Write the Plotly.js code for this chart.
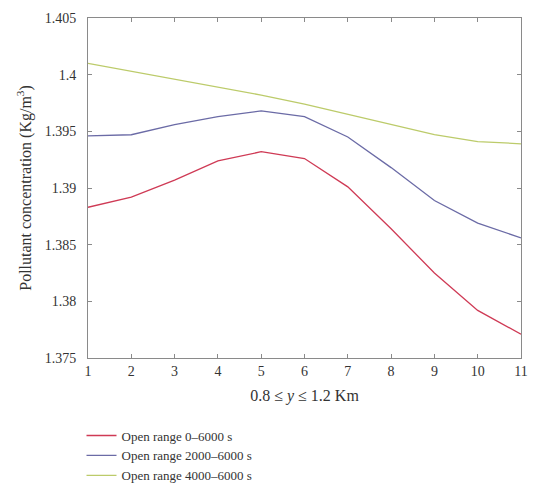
<!DOCTYPE html>
<html>
<head>
<meta charset="utf-8">
<script src="https://cdn.plot.ly/plotly-3.0.1.min.js"></script>
<style>html,body{margin:0;padding:0;background:#fff;}#chart{width:534px;height:490px;}</style>
</head>
<body>
<div id="chart"></div>
<script>
const xValues = [1, 2, 3, 4, 5, 6, 7, 8, 9, 10, 11];
const seriesNames = ["Open range 0\u20136000 s", "Open range 2000\u20136000 s", "Open range 4000\u20136000 s"];
const range0to6000 = [1.3883, 1.3892, 1.3907, 1.3924, 1.3932, 1.3926, 1.3901, 1.3864, 1.3825, 1.3792, 1.3771];
const range2000to6000 = [1.3946, 1.3947, 1.3956, 1.3963, 1.3968, 1.3963, 1.3945, 1.3918, 1.3889, 1.3869, 1.3856];
const range4000to6000 = [1.4010, 1.4003, 1.3996, 1.3989, 1.3982, 1.3974, 1.3965, 1.3956, 1.3947, 1.3941, 1.3939];
const yTicks = [1.375, 1.38, 1.385, 1.39, 1.395, 1.4, 1.405];
const yTickLabels = ["1.375", "1.38", "1.385", "1.39", "1.395", "1.4", "1.405"];
const colors = ["#cf3a55", "#6b6ba6", "#bccb6a"];

const seriesValues = [range0to6000, range2000to6000, range4000to6000];
const traces = seriesValues.map((vals, i) => ({
  x: xValues, y: vals, type: "scatter", mode: "lines",
  name: seriesNames[i],
  line: {color: colors[i], width: 1.3}
}));

const fontFamily = "Liberation Serif";
const axisCommon = {
  showline: true, linecolor: "#8a8a8a", linewidth: 1, mirror: "ticks",
  ticks: "inside", ticklen: 4, tickcolor: "#8a8a8a",
  showgrid: false, zeroline: false, automargin: false,
  tickfont: {family: fontFamily, size: 14, color: "#333"}
};

const layout = {
  width: 534, height: 490,
  margin: {l: 88, r: 13, t: 18, b: 132, autoexpand: false},
  paper_bgcolor: "#fff", plot_bgcolor: "#fff",
  font: {family: fontFamily, color: "#333"},
  showlegend: true,
  legend: {
    x: -0.015, y: -0.184, xanchor: "left", yanchor: "top",
    orientation: "v", font: {family: fontFamily, size: 13, color: "#333"},
    bgcolor: "rgba(0,0,0,0)", tracegroupgap: 0
  },
  xaxis: Object.assign({}, axisCommon, {
    range: [1, 11], tickvals: xValues, ticktext: xValues.map(String),
    ticklabelstandoff: 0,
    title: {text: "0.8 \u2264 <i>y</i> \u2264 1.2 Km", font: {family: fontFamily, size: 16, color: "#333"}, standoff: 12}
  }),
  yaxis: Object.assign({}, axisCommon, {
    range: [1.375, 1.405], tickvals: yTicks, ticktext: yTickLabels,
    ticklabelstandoff: 8,
    title: {text: "Pollutant concentration (Kg/m<sup>3</sup>)", font: {family: fontFamily, size: 16, color: "#333"}, standoff: 9}
  })
};

Plotly.newPlot("chart", traces, layout, {displayModeBar: false, staticPlot: true});
</script>
</body>
</html>
